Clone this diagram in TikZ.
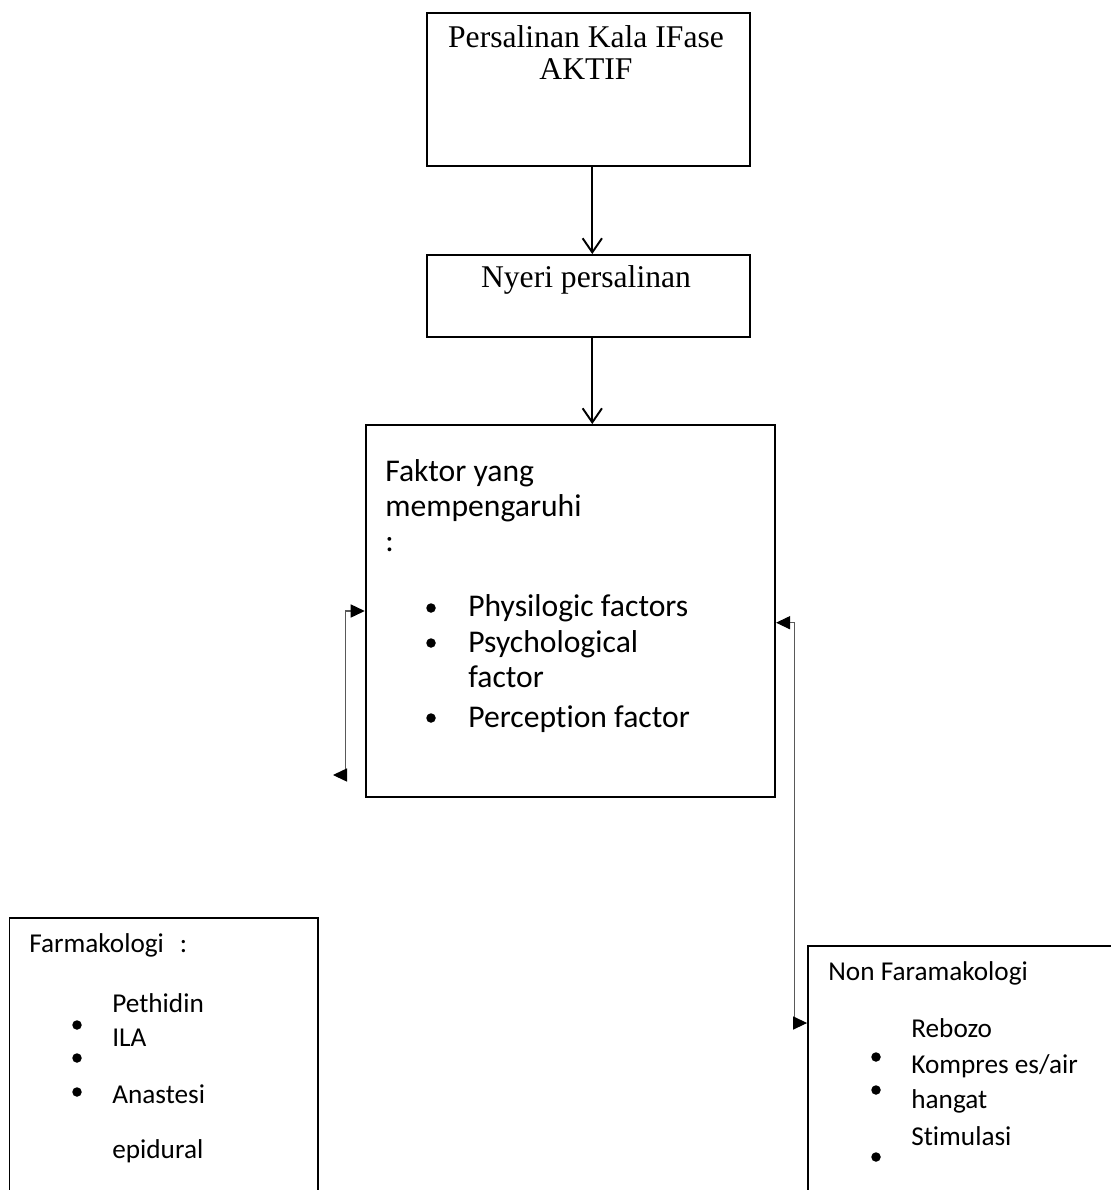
\documentclass[tikz,border=0pt]{standalone}
\usepackage{fontspec}
\setmainfont{Liberation Serif}
\newfontfamily\calibri[Ligatures=NoCommon]{Carlito}
\usetikzlibrary{arrows.meta,positioning,calc}

\begin{document}
\begin{tikzpicture}[x=0.02cm,y=-0.02cm,
    box/.style={draw,line width=1.1pt,inner sep=0pt},
    flow/.style={-{Straight Barb[length=8pt,width=11pt]},line width=1.1pt},
    link/.style={{Triangle[length=8pt,width=7.5pt,color=black]}-{Triangle[length=8pt,width=7.5pt,color=black]},
                 line width=0.6pt,draw=black!65},
    serif/.style={font=\fontsize{18}{18}\selectfont,anchor=base,inner sep=0pt},
    big/.style={font=\calibri\fontsize{18}{20}\selectfont,anchor=base west,inner sep=0pt},
    small/.style={font=\calibri\fontsize{15.5}{18}\selectfont,anchor=base west,inner sep=0pt}]
  % page
  \fill[white] (0,0) rectangle (1111,1190);
  \useasboundingbox (0,0) rectangle (1111,1190);

  % boxes
  \node[box,minimum width=6.47cm,minimum height=3.06cm] (kala) at (588.3,89.2) {};
  \node[box,minimum width=6.47cm,minimum height=1.64cm] (nyeri) at (588.3,296) {};
  \node[box,minimum width=8.19cm,minimum height=7.44cm] (faktor) at (570.4,611) {};
  \node[box,minimum width=6.17cm,minimum height=5.84cm] (farma) at (163.7,1064) {};
  \node[box,minimum width=6.44cm,minimum height=5.28cm] (nonfarma) at (969,1078) {};

  % texts
  \node[serif] (kalaA) at (586,47) {Persalinan Kala IFase};
  \node[serif] (kalaB) at (586,79) {AKTIF};
  \node[serif] (nyeriA) at (586,287) {Nyeri persalinan};

  \node[big] (faktorA) at (385,481) {Faktor yang};
  \node[big] (faktorB) at (385,516) {mempengaruhi};
  \node[big] (faktorC) at (385,551) {:};
  \node[big] (fisik) at (468,616) {Physilogic factors};
  \node[big] (psikoA) at (468,652) {Psychological};
  \node[big] (psikoB) at (468,687) {factor};
  \node[big] (persepsi) at (468,727) {Perception factor};

  \node[small] (farmaA) at (29,952) {Farmakologi\hspace{9pt}:};
  \node[small] (pethidin) at (112,1012) {Pethidin};
  \node[small] (ila) at (112,1046) {ILA};
  \node[small] (anastesiA) at (112,1103) {Anastesi};
  \node[small] (anastesiB) at (112,1158) {epidural};

  \node[small] (nonfarmaA) at (828,980) {Non Faramakologi};
  \node[small] (rebozo) at (911,1037) {Rebozo};
  \node[small] (kompresA) at (911,1073) {Kompres es/air};
  \node[small] (kompresB) at (911,1108) {hangat};
  \node[small] (stimulasi) at (911,1145) {Stimulasi};

  % bullets
  \foreach \p in {(431,608),(431,643),(431,718),
                  (77,1025),(77,1058),(77,1092),
                  (876,1057),(876,1090),(876,1157)}
    \fill \p circle (0.095cm);

  % arrows
  \draw[flow] ([xshift=0.08cm]kala.south) -- ([xshift=0.08cm]nyeri.north);
  \draw[flow] ([xshift=0.08cm]nyeri.south) -- ([xshift=0.08cm]nyeri.south |- faktor.north);

  \coordinate (farmaEnd) at (333,775);
  \draw[link] (faktor.west) -- ++(-19,0) |- (farmaEnd);
  \draw[link] ($(faktor.east)+(0,11.7)$) -- ++(18.5,0) |- ($(nonfarma.west)+(0,-55)$);
\end{tikzpicture}
\end{document}
